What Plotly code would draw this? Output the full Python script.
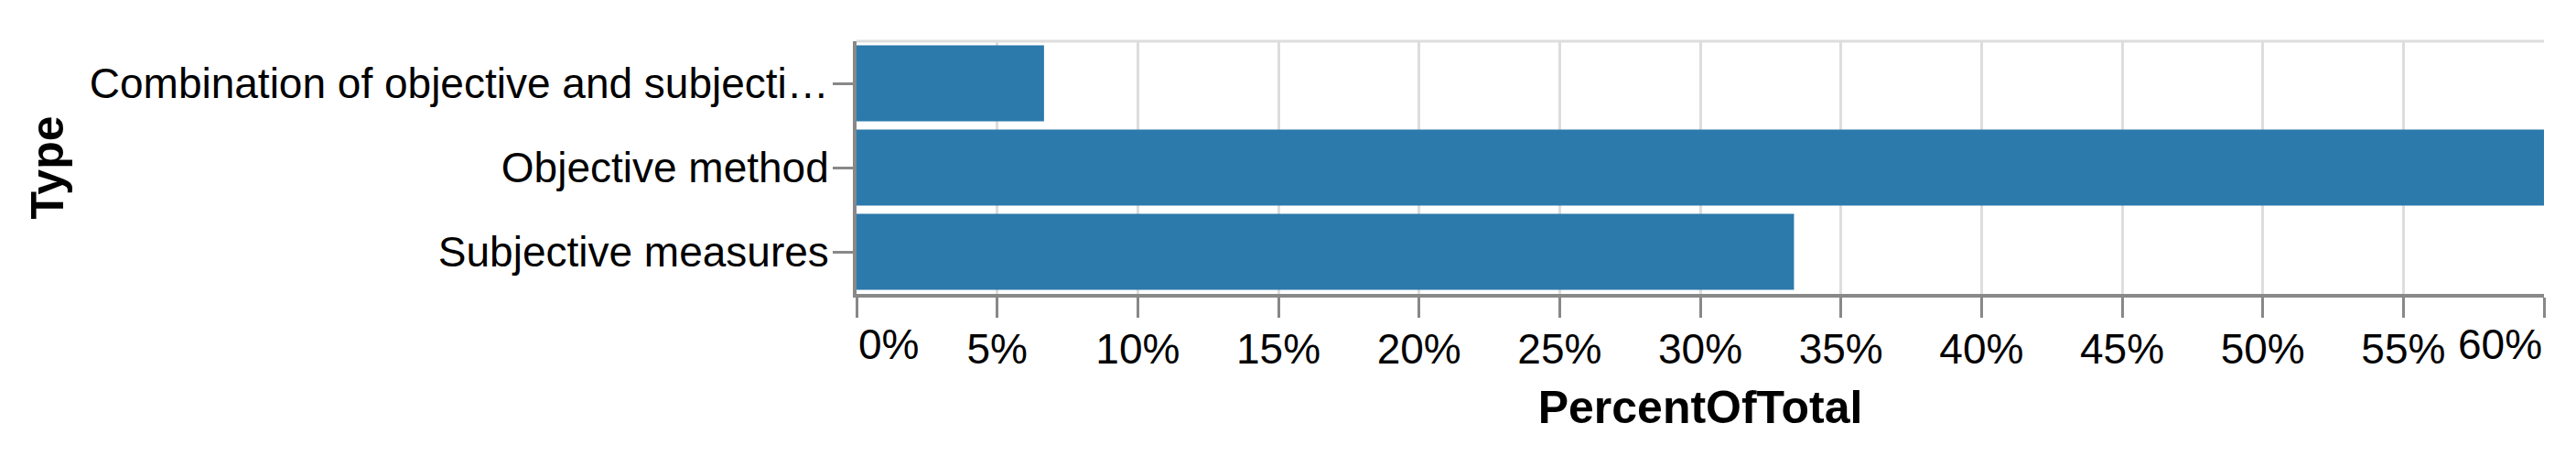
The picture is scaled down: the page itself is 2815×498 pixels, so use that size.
import plotly.graph_objects as go

# data
categories = [
    "Combination of objective and subjective measures",
    "Objective method",
    "Subjective measures",
]
percent_of_total = [1 / 15, 9 / 15, 5 / 15]
x_ticks = [0, 0.05, 0.10, 0.15, 0.20, 0.25, 0.30, 0.35, 0.40, 0.45, 0.50, 0.55, 0.60]
label_limit = 37

FONT = "Arial, Liberation Sans, sans-serif"
BAR = "#2c79ab"
AXIS = "#888888"
GRID = "#dddddd"
LABEL_SIZE = 46
TITLE_SIZE = 50


def short(s, n=label_limit):
    return s if len(s) <= n else s[:n] + "\u2026"


fig = go.Figure()
fig.add_trace(
    go.Bar(
        x=percent_of_total,
        y=categories,
        orientation="h",
        marker=dict(color=BAR, line=dict(width=0)),
        hovertemplate="%{y}: %{x:.1%}<extra></extra>",
    )
)

# first/last x labels sit flush with the plot edges (vega-lite style)
tick_text = [f"{round(v * 100)}%" for v in x_ticks]
inner_text = [""] + tick_text[1:-1] + [""]
for v, t, anchor in [(x_ticks[0], tick_text[0], "left"), (x_ticks[-1], tick_text[-1], "right")]:
    fig.add_annotation(
        x=v, y=0, xref="x", yref="paper", text=t, showarrow=False,
        xanchor=anchor, yanchor="top", yshift=-27,
        font=dict(family=FONT, size=LABEL_SIZE, color="#000"),
    )

fig.add_shape(type="line", xref="paper", yref="paper", x0=0, x1=1, y0=1, y1=1,
              line=dict(color=GRID, width=3), layer="below")

fig.update_layout(
    width=2815,
    height=498,
    margin=dict(l=936, r=35, t=45, b=177),
    paper_bgcolor="white",
    plot_bgcolor="white",
    bargap=0.1,
    showlegend=False,
    font=dict(family=FONT, size=LABEL_SIZE, color="#000"),
    xaxis=dict(
        range=[0, 0.6],
        tickvals=x_ticks,
        ticktext=inner_text,
        showgrid=True, gridcolor=GRID, gridwidth=3,
        zeroline=False,
        showline=True, linecolor=AXIS, linewidth=4,
        ticks="outside", ticklen=22, tickwidth=3, tickcolor=AXIS,
        tickfont=dict(size=LABEL_SIZE),
        ticklabelstandoff=-5,
        title=dict(text="<b>PercentOfTotal</b>", font=dict(size=TITLE_SIZE), standoff=22),
    ),
    yaxis=dict(
        categoryorder="array",
        categoryarray=categories,
        autorange="reversed",
        tickvals=categories,
        ticktext=[short(c) for c in categories],
        showgrid=False,
        showline=True, linecolor=AXIS, linewidth=4,
        ticks="outside", ticklen=22, tickwidth=3, tickcolor=AXIS,
        tickfont=dict(size=LABEL_SIZE),
        ticklabelstandoff=-5,
        title=dict(text="<b>Type</b>", font=dict(size=TITLE_SIZE), standoff=13),
    ),
)

# drop the default body margin so the figure sits at the page origin
fig.write_html(
    "out.html",
    config={"displayModeBar": False},
    post_script="document.body.style.margin='0';",
)
